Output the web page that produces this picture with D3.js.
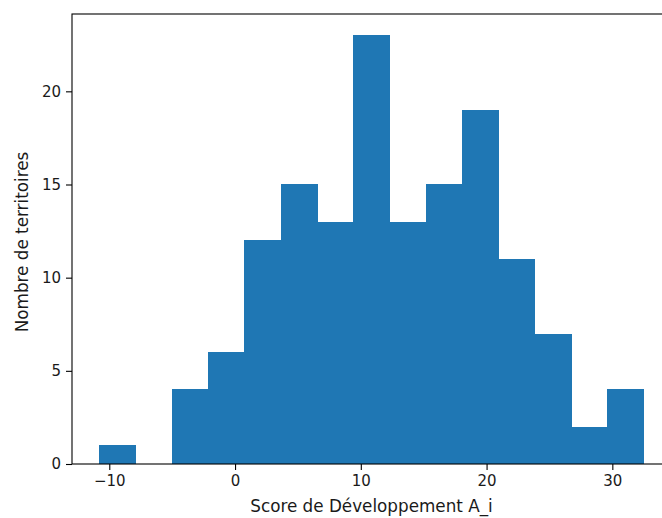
<!DOCTYPE html>
<html>
<head>
<meta charset="utf-8">
<script src="https://cdn.jsdelivr.net/npm/d3@7"></script>
<style>
  html, body { margin: 0; padding: 0; background: #fff; }
  svg { display: block; font-family: "DejaVu Sans", sans-serif; }
</style>
</head>
<body>
<svg id="chart" width="662" height="518"></svg>
<script>
// Histogram data
const binEdges = [-10.80, -7.91, -5.03, -2.14, 0.75, 3.63, 6.52, 9.41, 12.29, 15.18, 18.07, 20.95, 23.84, 26.73, 29.61, 32.50];
const counts   = [1, 0, 4, 6, 12, 15, 13, 23, 13, 15, 19, 11, 7, 2, 4];
const xTicks = [-10, 0, 10, 20, 30];
const yTicks = [0, 5, 10, 15, 20];
const xLabel = "Score de Développement A_i";
const yLabel = "Nombre de territoires";

const svg = d3.select("#chart");
const mLeft = 72, mRight = 671, mTop = 14, mBottom = 464;

const xMin = binEdges[0], xMax = binEdges[binEdges.length - 1];
const xPad = (xMax - xMin) * 0.05;
const x = d3.scaleLinear().domain([xMin - xPad, xMax + xPad]).range([mLeft, mRight]);
const y = d3.scaleLinear().domain([0, d3.max(counts) * 1.05]).range([mBottom, mTop]);

const bins = counts.map((c, i) => ({ x0: binEdges[i], x1: binEdges[i + 1], c }));

svg.append("g").attr("shape-rendering", "crispEdges")
  .selectAll("rect").data(bins.filter(d => d.c > 0)).join("rect")
  .attr("x", d => x(d.x0))
  .attr("width", d => x(d.x1) - x(d.x0) + 0.6)
  .attr("y", d => y(d.c))
  .attr("height", d => y(0) - y(d.c))
  .attr("fill", "#1f77b4");

// Spines
svg.append("rect")
  .attr("x", mLeft).attr("y", mTop)
  .attr("width", mRight - mLeft).attr("height", mBottom - mTop)
  .attr("fill", "none").attr("stroke", "#000").attr("stroke-width", 1.1);

// Axes
const xAxis = d3.axisBottom(x).tickValues(xTicks).tickSize(6).tickPadding(5)
  .tickFormat(d => d < 0 ? "\u2212" + Math.abs(d) : String(d));
const gx = svg.append("g").attr("transform", `translate(0,${mBottom})`).call(xAxis);
gx.select(".domain").remove();
gx.selectAll("line").attr("stroke", "#000").attr("stroke-width", 1.1);
gx.selectAll("text").attr("font-size", 15).attr("fill", "#1a1a1a").attr("font-family", "DejaVu Sans");

const yAxis = d3.axisLeft(y).tickValues(yTicks).tickSize(6).tickPadding(5);
const gy = svg.append("g").attr("transform", `translate(${mLeft},0)`).call(yAxis);
gy.select(".domain").remove();
gy.selectAll("line").attr("stroke", "#000").attr("stroke-width", 1.1);
gy.selectAll("text").attr("font-size", 15).attr("fill", "#1a1a1a").attr("font-family", "DejaVu Sans");

// Axis labels
svg.append("text")
  .attr("x", (mLeft + mRight) / 2).attr("y", 512)
  .attr("text-anchor", "middle").attr("font-size", 16.8).attr("fill", "#1a1a1a")
  .text(xLabel);

svg.append("text")
  .attr("transform", `translate(28,242) rotate(-90)`)
  .attr("text-anchor", "middle").attr("font-size", 16.8).attr("fill", "#1a1a1a")
  .text(yLabel);
</script>
</body>
</html>
